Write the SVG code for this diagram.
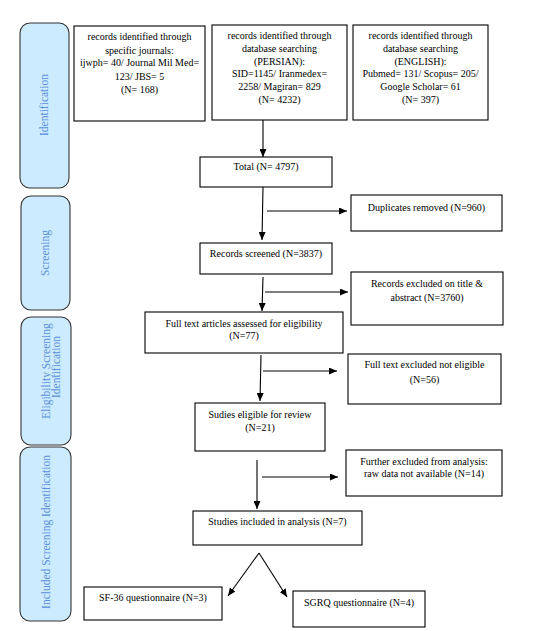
<svg xmlns="http://www.w3.org/2000/svg" width="547" height="631" viewBox="0 0 547 631">
<defs>
<style>
.box{fill:#fff;stroke:#000;stroke-width:1.1}
.side{fill:#CCEBFF;stroke:#333;stroke-width:1.1}
.t{font-family:"Liberation Serif",serif;font-size:10px;fill:#000;text-anchor:middle}
.s{font-family:"Liberation Serif",serif;font-size:11.5px;fill:#5B8FD6;text-anchor:middle}
.c{stroke:#000;stroke-width:1.1;fill:none;marker-end:url(#ah)}
</style>
<marker id="ah" markerUnits="userSpaceOnUse" markerWidth="8" markerHeight="7" refX="8" refY="3.5" orient="auto">
<path d="M0,0 L8,3.5 L0,7 Z" fill="#000"/>
</marker>
</defs>
<rect width="547" height="631" fill="#fff"/>
<g id="side-identification"><rect class="side" x="20" y="23" width="49" height="165" rx="10"/><text class="s" transform="translate(48,105) rotate(-90)">Identification</text></g>
<g id="side-screening"><rect class="side" x="21" y="196" width="49" height="114" rx="10"/><text class="s" transform="translate(49,253) rotate(-90)">Screening</text></g>
<g id="side-eligibility"><rect class="side" x="21" y="317" width="50" height="128" rx="10"/><text class="s" transform="translate(50,371) rotate(-90)">Eligibility Screening</text><text class="s" transform="translate(60,367) rotate(-90)">Identification</text></g>
<g id="side-included"><rect class="side" x="20" y="447" width="51" height="174" rx="10"/><text class="s" transform="translate(50,532) rotate(-90)">Included Screening Identification</text></g>

<g id="journals"><rect class="box" x="74" y="26" width="131" height="95"/>
<text class="t" x="139.5" y="40">records identified through</text>
<text class="t" x="139.5" y="53.5">specific journals:</text>
<text class="t" x="139.5" y="66">ijwph= 40/ Journal Mil Med=</text>
<text class="t" x="139.5" y="79.5">123/ JBS= 5</text>
<text class="t" x="139.5" y="92.5">(N= 168)</text></g>

<g id="persian"><rect class="box" x="212" y="25" width="135" height="95"/>
<text class="t" x="279.5" y="39">records identified through</text>
<text class="t" x="279.5" y="52">database searching</text>
<text class="t" x="279.5" y="65">(PERSIAN):</text>
<text class="t" x="279.5" y="77">SID=1145/ Iranmedex=</text>
<text class="t" x="279.5" y="90">2258/ Magiran= 829</text>
<text class="t" x="279.5" y="102.5">(N= 4232)</text></g>

<g id="english"><rect class="box" x="353" y="25" width="135" height="95"/>
<text class="t" x="420.5" y="39">records identified through</text>
<text class="t" x="420.5" y="52">database searching</text>
<text class="t" x="420.5" y="65">(ENGLISH):</text>
<text class="t" x="420.5" y="77">Pubmed= 131/ Scopus= 205/</text>
<text class="t" x="420.5" y="90">Google Scholar= 61</text>
<text class="t" x="420.5" y="103">(N= 397)</text></g>

<g id="total"><rect class="box" x="200" y="157" width="132" height="30"/>
<text class="t" x="266" y="169.5">Total (N= 4797)</text></g>

<g id="duplicates"><rect class="box" x="351" y="195" width="151" height="36"/>
<text class="t" x="426.5" y="210.5">Duplicates removed (N=960)</text></g>

<g id="screened"><rect class="box" x="200" y="243" width="132" height="31"/>
<text class="t" x="266" y="256.5">Records screened (N=3837)</text></g>

<g id="excluded-title"><rect class="box" x="351" y="272" width="152" height="53"/>
<text class="t" x="427" y="286.5">Records excluded on title &amp;</text>
<text class="t" x="427" y="300.5">abstract (N=3760)</text></g>

<g id="fulltext"><rect class="box" x="145" y="312" width="198" height="41"/>
<text class="t" x="244" y="326.5">Full text articles assessed for eligibility</text>
<text class="t" x="244" y="338.5">(N=77)</text></g>

<g id="fulltext-excluded"><rect class="box" x="348" y="354" width="153" height="50"/>
<text class="t" x="424.5" y="367.5">Full text excluded not eligible</text>
<text class="t" x="424.5" y="382.5">(N=56)</text></g>

<g id="eligible"><rect class="box" x="195" y="403" width="130" height="48"/>
<text class="t" x="260" y="417.5">Sudies eligible for review</text>
<text class="t" x="260" y="430.5">(N=21)</text></g>

<g id="further-excluded"><rect class="box" x="346" y="450" width="156" height="46"/>
<text class="t" x="424" y="464.5">Further excluded from analysis:</text>
<text class="t" x="424" y="476.5">raw data not available (N=14)</text></g>

<g id="included"><rect class="box" x="193" y="511" width="169" height="34"/>
<text class="t" x="277.5" y="524.5">Studies included in analysis (N=7)</text></g>

<g id="sf36"><rect class="box" x="84" y="587" width="138" height="33"/>
<text class="t" x="153" y="600.5">SF-36 questionnaire  (N=3)</text></g>

<g id="sgrq"><rect class="box" x="293" y="591" width="132" height="36"/>
<text class="t" x="359" y="605.5">SGRQ questionnaire  (N=4)</text></g>

<g id="connectors">
<line class="c" x1="263" y1="120" x2="263" y2="157"/>
<line class="c" x1="263" y1="187" x2="262" y2="240"/>
<line class="c" x1="267" y1="211" x2="347" y2="211"/>
<line class="c" x1="263" y1="277" x2="262" y2="311"/>
<line class="c" x1="265" y1="292" x2="348" y2="292"/>
<line class="c" x1="261" y1="355" x2="260" y2="401"/>
<line class="c" x1="263" y1="371" x2="337" y2="371"/>
<line class="c" x1="257" y1="460" x2="257" y2="509"/>
<line class="c" x1="262" y1="477" x2="338" y2="477"/>
<line class="c" x1="259" y1="553" x2="228" y2="596"/>
<line class="c" x1="259" y1="553" x2="287" y2="597"/>
</g>
</svg>
